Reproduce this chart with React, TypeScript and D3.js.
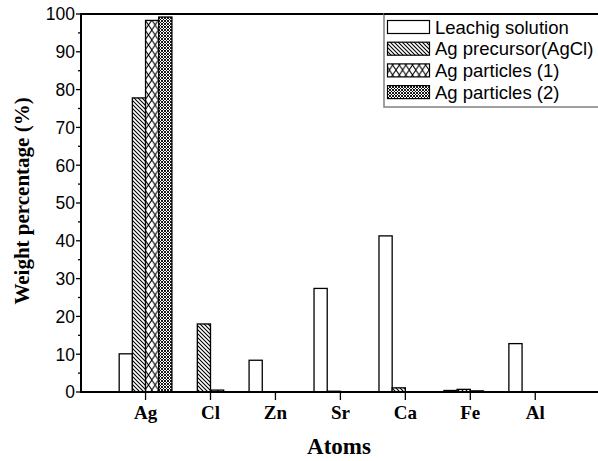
import React from "react";
import * as d3 from "d3";

const categories = ["Ag", "Cl", "Zn", "Sr", "Ca", "Fe", "Al"];
const seriesNames = ["Leachig solution", "Ag precursor(AgCl)", "Ag particles (1)", "Ag particles (2)"];
const leaching = [10.1, 0, 8.4, 27.4, 41.3, 0.4, 12.8];
const precursor = [77.8, 18.0, 0, 0.2, 1.1, 0.7, 0];
const particles1 = [98.3, 0.5, 0, 0, 0, 0.3, 0];
const particles2 = [99.2, 0, 0, 0, 0, 0, 0];
const yTicks = [0, 10, 20, 30, 40, 50, 60, 70, 80, 90, 100];

const series = [leaching, precursor, particles1, particles2];
const fills = ["#ffffff", "url(#pHatch)", "url(#pCross)", "url(#pDense)"];

export default function App() {
  const W = 598, H = 461;
  const left = 81, top = 14, bottom = 392;
  const x = d3.scaleLinear().domain([0, 8]).range([80.6, 600.2]);
  const y = d3.scaleLinear().domain([0, 100]).range([bottom, top]);
  const bw = x(0.203) - x(0);
  const minor = d3.range(5, 100, 10);

  return (
    <svg width={W} height={H} style={{ position: "absolute", left: 0, top: 0, background: "#fff" }}>
      <defs>
        <pattern id="pHatch" patternUnits="userSpaceOnUse" width={4} height={4}>
          <rect width={4} height={4} fill="#fff" />
          <path d="M-1,-1 L5,5 M-1,3 L1,5 M3,-1 L5,1" stroke="#000" strokeWidth={1.1} />
        </pattern>
        <pattern id="pCross" patternUnits="userSpaceOnUse" width={6.6} height={10}>
          <rect width={6.6} height={10} fill="#fff" />
          <path d="M0,0 L6.6,10 M6.6,0 L0,10" stroke="#000" strokeWidth={1} />
        </pattern>
        <pattern id="pDense" patternUnits="userSpaceOnUse" width={3} height={3}>
          <rect width={3} height={3} fill="#fff" />
          <path d="M0,0 L3,3 M3,0 L0,3" stroke="#000" strokeWidth={0.9} />
        </pattern>
      </defs>

      {categories.map((c, i) =>
        series.map((s, k) => {
          const v = s[i];
          if (v <= 0) return null;
          const x0 = x(i + 1) - 2 * bw + k * bw;
          return (
            <rect
              key={c + k}
              x={x0}
              y={y(v)}
              width={bw}
              height={bottom - y(v)}
              fill={fills[k]}
              stroke="#000"
              strokeWidth={1.3}
            />
          );
        })
      )}

      <line x1={left} x2={W} y1={top} y2={top} stroke="#000" strokeWidth={2} />
      <line x1={left} x2={W} y1={bottom} y2={bottom} stroke="#000" strokeWidth={2} />
      <line x1={left} x2={left} y1={top - 1} y2={bottom + 1} stroke="#000" strokeWidth={2} />

      {yTicks.map((t) => (
        <g key={"yt" + t}>
          <line x1={left - 5} x2={left} y1={y(t)} y2={y(t)} stroke="#000" strokeWidth={1.3} />
          <text
            x={left - 6}
            y={y(t)}
            dy="0.36em"
            textAnchor="end"
            fontFamily="Liberation Sans, Arial, sans-serif"
            fontSize={17.5}
          >
            {t}
          </text>
        </g>
      ))}
      {minor.map((t) => (
        <line key={"ym" + t} x1={left - 3} x2={left} y1={y(t)} y2={y(t)} stroke="#000" strokeWidth={1.3} />
      ))}

      {categories.map((c, i) => (
        <g key={"xt" + c}>
          <line x1={x(i + 1)} x2={x(i + 1)} y1={bottom} y2={bottom + 8} stroke="#000" strokeWidth={1.3} />
          <text
            x={x(i + 1)}
            y={419}
            textAnchor="middle"
            fontFamily="Liberation Serif, Times New Roman, serif"
            fontWeight="bold"
            fontSize={19}
          >
            {c}
          </text>
        </g>
      ))}

      <text
        x={339}
        y={454}
        textAnchor="middle"
        fontFamily="Liberation Serif, Times New Roman, serif"
        fontWeight="bold"
        fontSize={23}
      >
        Atoms
      </text>
      <text
        transform={`translate(29,${(top + bottom) / 2 - 2}) rotate(-90)`}
        textAnchor="middle"
        fontFamily="Liberation Serif, Times New Roman, serif"
        fontWeight="bold"
        fontSize={21}
      >
        Weight percentage (%)
      </text>

      <rect x={384} y={14} width={230} height={93} fill="#fff" stroke="#808080" strokeWidth={1.5} />
      <line x1={384} x2={W} y1={14} y2={14} stroke="#000" strokeWidth={2} />
      {seriesNames.map((n, k) => {
        const cy = 27 + k * 21.7;
        return (
          <g key={"lg" + k}>
            <rect x={387.5} y={cy - 6.5} width={42} height={13} fill={fills[k]} stroke="#000" strokeWidth={1.2} />
            <text
              x={435}
              y={cy}
              dy="0.36em"
              fontFamily="Liberation Sans, Arial, sans-serif"
              fontSize={18.5}
            >
              {n}
            </text>
          </g>
        );
      })}
    </svg>
  );
}
